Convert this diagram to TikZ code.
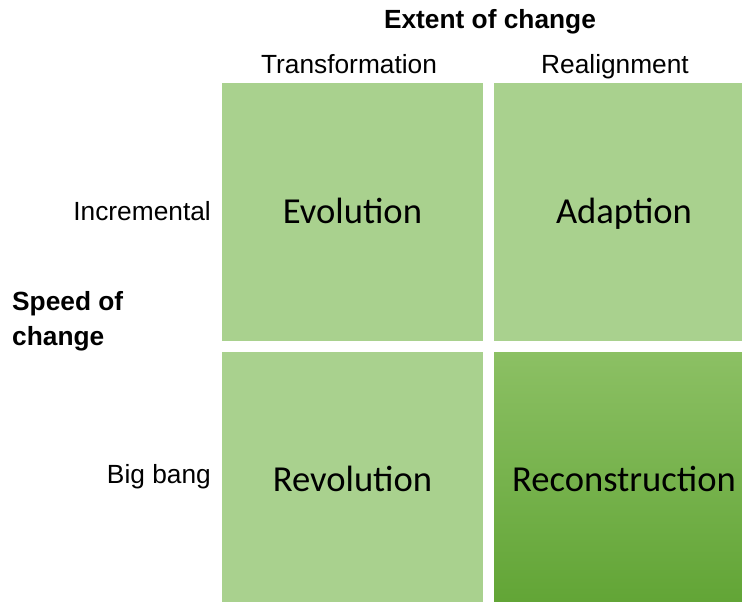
\documentclass[tikz,border=0pt]{standalone}
\usepackage{fontspec}
\setmainfont{Liberation Sans}
\newfontfamily\calib{Carlito}
\definecolor{lightg}{HTML}{A9D18E}
\definecolor{darktop}{HTML}{8CC064}
\definecolor{darkbot}{HTML}{62A536}
\begin{document}
\begin{tikzpicture}[x=1pt,y=-1pt,
  cell/.style={fill=lightg,draw=none},
  celltext/.style={font=\calib\fontsize{36.6}{40}\selectfont,anchor=base},
  lab/.style={font=\fontsize{26.3}{30}\selectfont,anchor=base},
  blab/.style={font=\bfseries\fontsize{26.3}{30}\selectfont,anchor=base}]
\useasboundingbox (0,0) rectangle (742,602);
\fill[cell] (222,83) rectangle (483,341);
\fill[cell] (494,83) rectangle (742,341);
\fill[cell] (222,352) rectangle (483,602);
\shade[top color=darktop,bottom color=darkbot] (494,352) rectangle (742,602);
\node[celltext] (evo) at (352.5,223) {Evolution};
\node[celltext] (ada) at (624,223) {Adaption};
\node[celltext] (rev) at (352.5,491) {Revolution};
\node[celltext] (rec) at (624,491) {Reconstruction};
\node[blab] (ext) at (490,29) {Extent of change};
\node[lab] (tra) at (349,74) {Transformation};
\node[lab] (rea) at (615,74) {Realignment};
\node[lab,anchor=base east,inner xsep=0pt] (inc) at (211,220) {Incremental};
\node[lab,anchor=base east,inner xsep=0pt] (big) at (211,483) {Big bang};
\node[blab,anchor=base west,inner xsep=0pt] (sp1) at (12,310) {Speed of};
\node[blab,anchor=base west,inner xsep=0pt] (sp2) at (12,345) {change};
\end{tikzpicture}
\end{document}
